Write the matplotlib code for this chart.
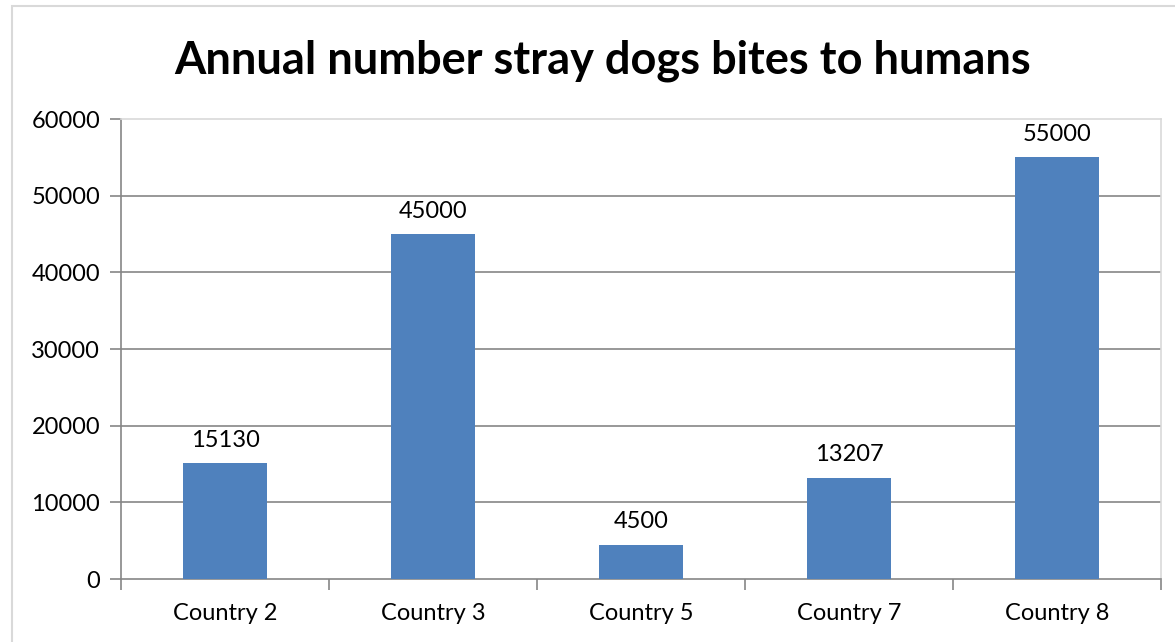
import matplotlib.pyplot as plt
from matplotlib.patches import Rectangle

countries = ["Country 2", "Country 3", "Country 5", "Country 7", "Country 8"]
bites = [15130, 45000, 4500, 13207, 55000]

plt.rcParams['font.family'] = ['Lato', 'DejaVu Sans']

fig = plt.figure(figsize=(11.75, 6.42), dpi=100)
# outer chart frame
fig.patches.append(Rectangle((12 / 1175, -0.05), 1.1, 1 - 6 / 642 + 0.05,
                             transform=fig.transFigure, fill=False,
                             edgecolor="#d9d9d9", linewidth=1.5))

ax = fig.add_axes([121 / 1175, 1 - 579 / 642, (1161 - 121) / 1175, (579 - 119) / 642])

x = range(len(countries))
bars = ax.bar(x, bites, width=0.4, color="#4f81bd", zorder=3)
ax.bar_label(bars, labels=[str(v) for v in bites], padding=9, fontsize=17)

ax.set_xlim(-0.5, len(countries) - 0.5)
ax.set_ylim(0, 60000)
ax.set_yticks(range(0, 60001, 10000))
for yv in range(10000, 60000, 10000):
    ax.axhline(yv, color="#868686", linewidth=1.2, zorder=1)

ax.set_xticks(list(x))
ax.set_xticklabels(countries, fontsize=17)
ax.set_xticks([i + 0.5 for i in range(-1, len(countries))], minor=True)
ax.tick_params(axis="x", which="major", length=0, pad=17)
ax.tick_params(axis="x", which="minor", length=8, color="#868686", width=1.2)
ax.tick_params(axis="y", length=8, color="#868686", width=1.2, labelsize=17, pad=7)

for s in ["left", "bottom"]:
    ax.spines[s].set_color("#868686")
    ax.spines[s].set_linewidth(1.2)
for s in ["top", "right"]:
    ax.spines[s].set_color("#d9d9d9")
    ax.spines[s].set_linewidth(1.2)

fig.text(603 / 1175, 1 - 61 / 642, "Annual number stray dogs bites to humans",
         ha="center", va="center", fontsize=32.5, fontweight="bold")

plt.savefig("out.png", dpi=100)
